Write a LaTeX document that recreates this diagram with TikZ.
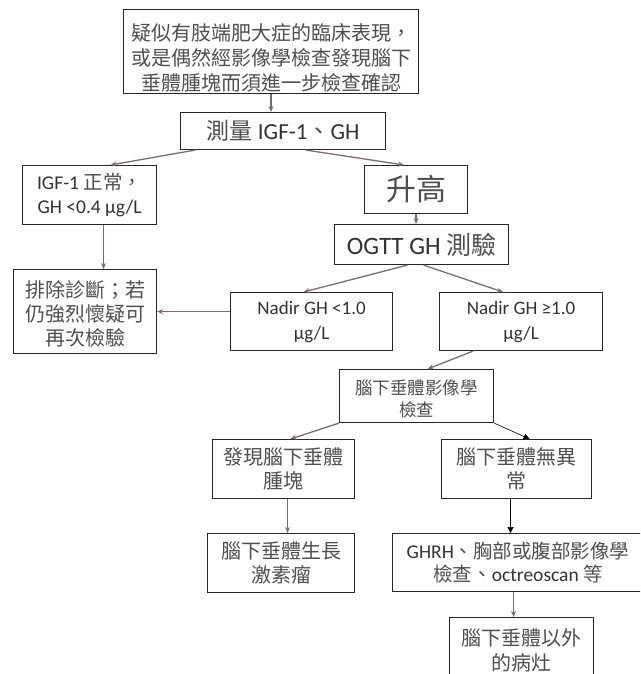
\documentclass[tikz,border=0pt]{standalone}
\usepackage{fontspec}
\setmainfont{Carlito}
\newfontfamily\cjkfont{Noto Sans CJK TC}
\usetikzlibrary{arrows.meta}
\definecolor{txt}{RGB}{50,50,50}
\definecolor{cjtxt}{RGB}{78,78,78}
\definecolor{arr}{RGB}{122,110,106}
\newcommand\cj[1]{{\cjkfont\color{cjtxt}#1}}
\tikzset{
  box/.style={draw=black!85, line width=1.1pt, anchor=north west, inner sep=0pt,
    align=center, text=txt, font=\fontsize{20}{24.5}\selectfont},
  cjbox/.style={box, text=cjtxt},
  garrow/.style={draw=arr, line width=1.3pt, -{Stealth[length=6pt,width=5pt]}},
  barrow/.style={draw=black, line width=0.6pt, -{Triangle[length=6pt,width=6pt]}},
}
\begin{document}
\begin{tikzpicture}[x=1pt,y=-1pt]
\useasboundingbox (0,0) rectangle (640,674);
\clip (0,0) rectangle (640,674);
\fill[white] (0,0) rectangle (640,674);

\node[cjbox, minimum width=295pt, minimum height=84pt, font=\fontsize{20}{25}\selectfont\cjkfont] (top) at (123,9)
  {\rule{0pt}{30pt}疑似有肢端肥大症的臨床表現，\\或是偶然經影像學檢查發現腦下\\垂體腫塊而須進一步檢查確認};
\node[box, minimum width=205pt, minimum height=37pt, font=\fontsize{23}{27}\selectfont] (meas) at (180,112)
  {\cj{測量} IGF-1\cj{、}GH};
\node[box, minimum width=134pt, minimum height=59pt, font=\fontsize{19.5}{24}\selectfont] (igf) at (22,165)
  {IGF-1 \cj{正常，}\\GH <0.4 µg/L};
\node[cjbox, minimum width=103pt, minimum height=48pt, font=\fontsize{30}{34}\selectfont\cjkfont] (up) at (364,165)
  {升高};
\node[box, minimum width=174pt, minimum height=40pt, font=\fontsize{25}{28}\selectfont] (ogtt) at (334,224)
  {OGTT GH \cj{測驗}};
\node[cjbox, minimum width=143pt, minimum height=84pt, font=\fontsize{20}{24}\selectfont\cjkfont] (excl) at (13,269)
  {\rule{0pt}{22pt}排除診斷；若\\仍強烈懷疑可\\再次檢驗};
\node[box, minimum width=162pt, minimum height=58pt, font=\fontsize{19}{25}\selectfont] (n1) at (230,292)
  {Nadir GH <1.0\\µg/L};
\node[box, minimum width=163pt, minimum height=58pt, font=\fontsize{19}{25}\selectfont] (n2) at (439,292)
  {Nadir GH ≥1.0\\µg/L};
\node[cjbox, minimum width=154pt, minimum height=53pt, font=\fontsize{17.5}{22}\selectfont\cjkfont] (img) at (339,369)
  {\rule{0pt}{21pt}腦下垂體影像學\\檢查};
\node[cjbox, minimum width=142pt, minimum height=59pt, font=\fontsize{20}{24}\selectfont\cjkfont] (found) at (212,439)
  {發現腦下垂體\\腫塊};
\node[cjbox, minimum width=150pt, minimum height=59pt, font=\fontsize{20}{24}\selectfont\cjkfont] (normal) at (441,439)
  {腦下垂體無異\\常};
\node[cjbox, minimum width=147pt, minimum height=59pt, font=\fontsize{20}{24}\selectfont\cjkfont] (tumor) at (207,533)
  {腦下垂體生長\\激素瘤};
\node[box, minimum width=251pt, minimum height=58pt, font=\fontsize{19.5}{23.5}\selectfont] (ghrh) at (392,533)
  {GHRH\cj{、胸部或腹部影像學}\\\cj{檢查、}octreoscan \cj{等}};
\node[cjbox, minimum width=144pt, minimum height=66pt, font=\fontsize{20}{24.5}\selectfont\cjkfont] (ext) at (449,617)
  {腦下垂體以外\\的病灶};

% connectors
\draw[garrow] (top.south) -- (top.south |- meas.north);
\draw[garrow] ([xshift=15pt]meas.south west) -- ([xshift=21pt]igf.north);
\draw[garrow] ([xshift=-80pt]meas.south east) -- ([xshift=-12pt]up.north);
\draw[garrow] ([xshift=14pt]igf.south) -- ([xshift=14pt]igf.south |- excl.north);
\draw[garrow] (up.south) -- (up.south |- ogtt.north);
\draw[garrow] ([xshift=-14pt]ogtt.south) -- ([xshift=-8pt]n1.north);
\draw[garrow] ([xshift=2pt]ogtt.south) -- ([xshift=-18pt]n2.north);
\draw[garrow] (n1.west |- excl.east) -- (excl.east);
\draw[garrow] ([xshift=-48pt]n2.south) -- ([xshift=11pt]img.north);
\draw[garrow] (img.south west) -- ([xshift=7pt]found.north);
\draw[barrow] (img.south east) -- ([xshift=13pt]normal.north);
\draw[garrow] ([xshift=4pt]found.south) -- ([xshift=4pt]found.south |- tumor.north);
\draw[barrow] ([xshift=-6pt]normal.south) -- ([xshift=-6pt]normal.south |- ghrh.north);
\draw[garrow] ([xshift=-4.5pt]ghrh.south) -- ([xshift=-4.5pt]ghrh.south |- ext.north);
\end{tikzpicture}
\end{document}
